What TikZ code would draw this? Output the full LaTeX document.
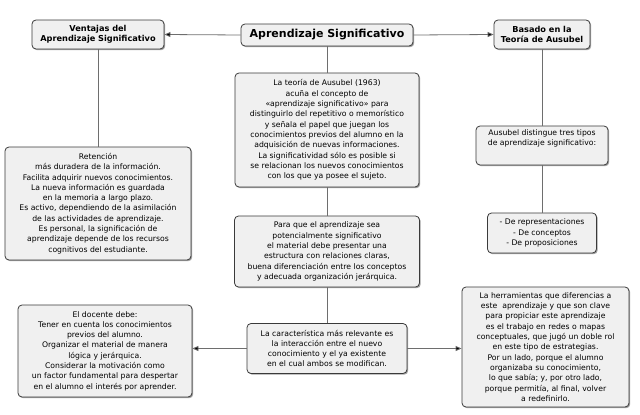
\documentclass[tikz,border=0pt]{standalone}
\usepackage{fontspec}
\setmainfont{DejaVu Sans}
\usetikzlibrary{arrows.meta,shadows}

\definecolor{cajagris}{HTML}{F0F0F0}
\definecolor{bordegris}{HTML}{3A3A3A}
\definecolor{lineagris}{HTML}{6E6E6E}

\tikzset{
  caja/.style={draw=bordegris, line width=.8pt, fill=cajagris, rounded corners=4pt,
    align=center, inner sep=2pt, font=\fontsize{7.7}{10.3}\selectfont,
    drop shadow={shadow xshift=1.2pt, shadow yshift=-1.2pt, fill=black!45, opacity=.8}},
  titulo/.style={caja, font=\fontsize{8.2}{9.8}\selectfont\bfseries},
  central/.style={caja, font=\fontsize{11}{12}\selectfont\bfseries},
  enlace/.style={draw=lineagris, line width=.8pt},
  flecha/.style={enlace, -{Triangle[length=6pt,width=5pt,fill=black]}}
}

\begin{document}
\begin{tikzpicture}[x=1pt,y=-1pt]
	\useasboundingbox (0,0) rectangle (640,415);

	% fila superior
	\node[central, minimum width=172pt, minimum height=22pt] (apr) at (327,35) {Aprendizaje Significativo};
	\node[titulo, minimum width=132pt, minimum height=29pt] (ventajas) at (98,34.5) {Ventajas del\\Aprendizaje Significativo};
	\node[titulo, minimum width=96pt, minimum height=29pt] (basado) at (542,34.5) {Basado en la\\Teoría de Ausubel};

	% columna central
	\node[caja, minimum width=184pt, minimum height=114pt] (teoria) at (327,130) {%
		La teoría de Ausubel (1963)\\
		acuña el concepto de\\
		«aprendizaje significativo» para\\
		distinguirlo del repetitivo o memorístico\\
		y señala el papel que juegan los\\
		conocimientos previos del alumno en la\\
		adquisición de nuevas informaciones.\\
		La significatividad sólo es posible si\\
		se relacionan los nuevos conocimientos\\
		con los que ya posee el sujeto.};
	\node[caja, minimum width=185pt, minimum height=71pt] (para) at (327,251.5) {%
		Para que el aprendizaje sea\\
		potencialmente significativo\\
		el material debe presentar una\\
		estructura con relaciones claras,\\
		buena diferenciación entre los conceptos\\
		y adecuada organización jerárquica.};
	\node[caja, minimum width=160pt, minimum height=50pt] (carac) at (327,348.5) {%
		La característica más relevante es\\
		la interacción entre el nuevo\\
		conocimiento y el ya existente\\
		en el cual ambos se modifican.};

	% columna izquierda
	\node[caja, minimum width=186pt, minimum height=113pt] (retencion) at (98,203.5) {%
		Retención\\
		más duradera de la información.\\
		Facilita adquirir nuevos conocimientos.\\
		La nueva información es guardada\\
		en la memoria a largo plazo.\\
		Es activo, dependiendo de la asimilación\\
		de las actividades de aprendizaje.\\
		Es personal, la significación de\\
		aprendizaje depende de los recursos\\
		cognitivos del estudiante.};
	\node[caja, minimum width=174pt, minimum height=92pt] (docente) at (105,351) {%
		El docente debe:\\
		Tener en cuenta los conocimientos\\
		previos del alumno.\\
		Organizar el material de manera\\
		lógica y jerárquica.\\
		Considerar la motivación como\\
		un factor fundamental para despertar\\
		en el alumno el interés por aprender.};

	% columna derecha
	\node[caja, minimum width=132pt, minimum height=39pt] (tipos) at (542,145.5) {%
		Ausubel distingue tres tipos\\
		de aprendizaje significativo:\\[6pt]};
	\node[caja, minimum width=109pt, minimum height=40pt] (lista) at (542,233) {%
		- De representaciones\\
		- De conceptos\\
		- De proposiciones};
	\node[caja, minimum width=167pt, minimum height=120pt] (herram) at (545.5,347) {%
		La herramientas que diferencias a\\
		este\ \ aprendizaje y que son clave\\
		para propiciar este aprendizaje\\
		es el trabajo en redes o mapas\\
		conceptuales, que jugó un doble rol\\
		en este tipo de estrategias.\\
		Por un lado, porque el alumno\\
		organizaba su conocimiento,\\
		lo que sabía; y, por otro lado,\\
		porque permitía, al final, volver\\
		a redefinirlo.};

	% conexiones
	\draw[flecha] (apr.west) -- (ventajas.east);
	\draw[flecha] (apr.east) -- (basado.west);
	\draw[enlace] (ventajas) -- (retencion);
	\draw[enlace] (apr) -- (teoria);
	\draw[enlace] (teoria) -- (para);
	\draw[enlace] (para) -- (carac);
	\draw[enlace] (basado) -- (tipos);
	\draw[enlace] (tipos) -- (lista);
	\draw[flecha] (carac.west) -- (carac.west -| docente.east);
	\draw[flecha] (carac.east) -- (carac.east -| herram.west);
\end{tikzpicture}
\end{document}
